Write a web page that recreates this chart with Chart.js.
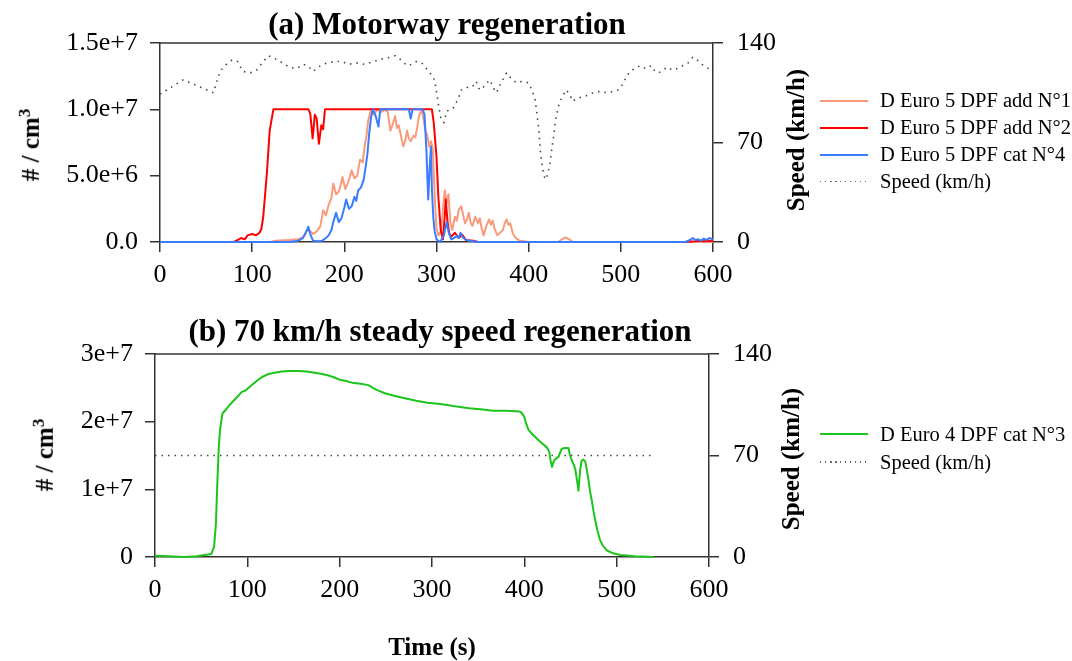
<!DOCTYPE html>
<html>
<head>
<meta charset="utf-8">
<script src="https://cdn.jsdelivr.net/npm/chart.js@4.4.0/dist/chart.umd.min.js"></script>
<style>
body { margin: 0; background: #fff; font-family: "Liberation Serif", "Times New Roman", serif; }
#wrap { position: relative; width: 1072px; height: 661px; overflow: hidden; background: #fff; }
canvas { position: absolute; left: 0; }
#chartTop { top: 0; }
#chartBot { top: 300px; }
.txt { position: absolute; white-space: nowrap; color: #000; }
.ttl { font-weight: bold; font-size: 31px; transform: translate(-50%, -50%); }
.ylab { font-weight: bold; font-size: 25px; transform: translate(-50%, -50%) rotate(-90deg); }
.leg { position: absolute; left: 820px; font-size: 20.5px; }
.leg .row { height: 27px; display: flex; align-items: center; }
.leg .s { display: inline-block; width: 48px; margin-right: 12px; }
</style>
</head>
<body>
<div id="wrap">
  <canvas id="chartTop" width="1072" height="300"></canvas>
  <canvas id="chartBot" width="1072" height="361"></canvas>
  <div class="txt ttl" style="left:447px; top:24px;">(a) Motorway regeneration</div>
  <div class="txt ttl" style="left:440px; top:331px;">(b) 70 km/h steady speed regeneration</div>
  <div class="txt ylab" style="left:30px; top:145px;"># / cm<sup style="font-size:17px">3</sup></div>
  <div class="txt ylab" style="left:44px; top:455px;"># / cm<sup style="font-size:17px">3</sup></div>
  <div class="txt ylab" style="left:796px; top:140px;">Speed (km/h)</div>
  <div class="txt ylab" style="left:791px; top:459px;">Speed (km/h)</div>
  <div class="txt" style="left:432px; top:647px; transform:translate(-50%,-50%); font-weight:bold; font-size:25px;">Time (s)</div>
  <div class="leg" id="legTop" style="top:87px;"></div>
  <div class="leg" id="legBot" style="top:420px;"></div>
</div>
<script>
// ---- (a) Motorway regeneration : temps (s) / concentration (x1e6 #/cm3) ----
const add1T = [0, 120, 125, 140, 150, 156, 159, 162, 166, 170, 174, 177, 180, 183, 186, 188, 191, 194, 196, 198, 201, 203, 206, 208, 211, 214, 217, 220, 222, 224, 226, 229, 232, 236, 240, 244, 247, 250, 253, 255, 257, 259, 262, 264, 266, 268, 270, 272, 275, 277, 279, 281, 284, 286, 288, 290, 292, 294, 296, 298, 300, 302, 305, 307, 309, 311, 313, 315, 317, 320, 322, 324, 327, 329, 331, 333, 335, 337, 339, 342, 345, 347, 349, 351, 354, 357, 359, 361, 363, 366, 369, 372, 374, 376, 378, 380, 383, 386, 390, 395, 400, 432, 436, 440, 444, 448, 600];
const add1V = [0, 0, 0.1, 0.15, 0.2, 0.4, 0.8, 0.9, 0.6, 0.8, 1.2, 2.4, 2.0, 2.8, 3.3, 4.4, 3.6, 3.8, 4.3, 4.9, 4.0, 4.3, 4.9, 5.4, 4.8, 5.0, 6.2, 6.0, 7.2, 8.0, 9.2, 10, 9.6, 10, 9.8, 10, 9.8, 8.4, 9.0, 9.5, 8.6, 8.8, 7.8, 7.2, 7.6, 8.4, 7.8, 7.6, 8.0, 7.9, 8.6, 9.5, 10, 9.2, 8.4, 8.0, 7.2, 7.6, 7.0, 3.5, 1.0, 0.5, 0.8, 2.5, 3.9, 2.9, 3.6, 1.5, 0.9, 1.9, 1.6, 2.4, 2.7, 2.0, 1.4, 1.7, 2.2, 1.5, 1.2, 1.9, 1.4, 1.8, 1.0, 0.5, 1.2, 1.7, 1.3, 1.6, 1.0, 0.5, 0.7, 0.9, 1.4, 1.7, 1.3, 1.4, 0.6, 0.3, 0.1, 0.05, 0, 0, 0.2, 0.35, 0.2, 0, 0];

const add2T = [0, 80, 84, 88, 92, 95, 100, 104, 108, 110, 112, 116, 119, 123, 161, 163, 165.6, 168, 170, 172.4, 175, 177, 179, 295, 297, 300, 302, 304.6, 307, 309, 310, 312, 314, 316, 320, 324, 328, 332, 340, 345, 570, 580, 585, 590, 595, 600];
const add2V = [0, 0, 0.15, 0.3, 0.2, 0.5, 0.6, 0.5, 0.7, 1.0, 1.9, 5.2, 8.4, 10, 10, 9.7, 7.8, 9.6, 9.3, 7.4, 8.8, 8.5, 10, 10, 9.0, 6.4, 3.4, 0.9, 0.2, 2.0, 3.2, 1.5, 0.6, 0.4, 0.7, 0.3, 0.55, 0.15, 0.1, 0, 0, 0.05, 0.1, 0.05, 0.1, 0.05];

const cat4T = [0, 140, 150, 155, 158, 161, 163, 166, 172, 176, 180, 183, 186, 188, 191, 194, 197, 200, 202, 205, 208, 211, 213, 215, 218, 221, 223, 225, 227, 229, 231, 234, 237, 239, 270, 272, 274, 285, 287, 289, 291, 292.5, 294, 295, 296.5, 298, 300, 304, 308, 311, 313, 316, 319, 322, 324, 326, 328, 331, 335, 340, 345, 570, 575, 578, 581, 584, 587, 590, 593, 596, 600];
const cat4V = [0, 0, 0.1, 0.3, 0.7, 1.15, 0.6, 0.1, 0.05, 0.1, 0.3, 0.5, 0.9, 1.5, 2.2, 1.5, 1.8, 2.6, 3.2, 2.5, 2.7, 3.4, 3.1, 3.9, 4.1, 4.7, 5.6, 6.6, 8.2, 9.4, 10, 9.5, 8.7, 10, 10, 9.3, 10, 10, 9.6, 7.0, 3.2, 5.5, 7.2, 4.0, 1.9, 0.8, 0.2, 0, 0.5, 1.5, 0.8, 0.2, 0.3, 0.45, 0.3, 0.7, 0.4, 0.2, 0.1, 0.05, 0, 0, 0.15, 0.3, 0.15, 0.2, 0.1, 0.25, 0.15, 0.3, 0.2];

const speedAT = [0, 10, 25, 40, 58, 65, 72, 78, 84, 90, 98, 105, 112, 118, 128, 135, 141, 148, 156, 162, 166, 174, 181, 190, 197, 205, 213, 222, 232, 242, 250, 255, 260, 264, 270, 278, 284, 289, 294, 298, 302, 305, 308, 311, 318, 323, 327, 332, 336, 340, 343, 346, 349, 353, 358, 362, 365, 370, 376, 381, 387, 393, 400, 404, 407, 409, 411, 413, 415, 417, 419, 421, 423, 425, 427, 429, 432, 436, 441, 445, 448, 452, 458, 463, 470, 477, 485, 492, 497, 501, 506, 510, 515, 521, 527, 533, 537, 541, 546, 550, 556, 561, 567, 573, 578, 583, 588, 595, 600];
const speedAV = [104, 108, 114, 110, 105, 120, 125, 128, 127, 120, 119, 121, 127, 131, 128, 125, 123, 122, 125, 123, 120, 124, 126, 127, 127, 125, 126, 125, 127, 129, 130, 131, 129, 126, 124, 127, 126, 122, 118, 114, 97, 86, 84, 92, 94, 100, 107, 108, 110, 110, 113, 108, 107, 111, 114, 108, 105, 112, 119, 115, 112, 113, 112, 106, 100, 90, 79, 62, 52, 46, 44, 49, 55, 65, 74, 85, 95, 102, 107, 103, 99, 101, 102, 103, 105, 106, 105, 106, 107, 110, 116, 120, 122, 124, 122, 124, 120, 119, 121, 123, 121, 122, 124, 126, 130, 128, 125, 122, 120];

// ---- (b) 70 km/h : temps (s) / concentration (x1e7 #/cm3) ----
const cat3T = [0, 15, 31, 45, 61, 64, 66, 67.5, 69, 70.4, 73, 77, 81, 88, 94, 98, 103, 110, 116, 122, 128, 137, 146, 155, 164, 175, 186, 193, 200, 207, 215, 223, 231, 236, 240, 249, 260, 273, 283, 295, 309, 323, 340, 355, 366, 380, 395, 397, 400, 402, 404.5, 409, 413.5, 419, 424.4, 427, 428.5, 430, 431.5, 433, 437, 439, 440.6, 444, 447.8, 449.5, 451.4, 453, 455, 457, 458.6, 460.4, 462, 464, 466, 467.5, 469.5, 471, 473, 475, 476.7, 479, 482, 485, 489, 495, 504, 520, 540];
const cat3V = [0.02, 0.01, 0, 0.01, 0.045, 0.15, 0.5, 1.09, 1.6, 1.88, 2.12, 2.18, 2.25, 2.35, 2.44, 2.46, 2.52, 2.6, 2.66, 2.7, 2.72, 2.74, 2.75, 2.75, 2.74, 2.72, 2.69, 2.66, 2.62, 2.6, 2.57, 2.56, 2.54, 2.5, 2.47, 2.42, 2.38, 2.34, 2.31, 2.28, 2.26, 2.23, 2.2, 2.18, 2.16, 2.16, 2.15, 2.13, 2.07, 1.97, 1.88, 1.81, 1.75, 1.68, 1.62, 1.55, 1.42, 1.33, 1.4, 1.44, 1.48, 1.55, 1.6, 1.61, 1.61, 1.5, 1.43, 1.38, 1.31, 1.14, 0.98, 1.28, 1.42, 1.44, 1.41, 1.3, 1.14, 0.98, 0.84, 0.67, 0.55, 0.4, 0.25, 0.17, 0.1, 0.06, 0.03, 0.01, 0];

const speedBT = [0, 542];
const speedBV = [70, 70];

const xTicksMax = 600;
const speedMax = 140;

Chart.defaults.font.family = '"Liberation Serif", "Times New Roman", serif';
Chart.defaults.color = '#000';

function pts(t, v, k) {
    return t.map(function (x, i) { return { x: x, y: v[i] * k }; });
}

// cadre du haut
const frameTop = {
    id: 'frameTop',
    beforeDatasetsDraw(chart) {
        const a = chart.chartArea, c = chart.ctx;
        c.save();
        c.strokeStyle = '#333';
        c.lineWidth = 1.5;
        c.beginPath();
        c.moveTo(a.left, a.top);
        c.lineTo(a.right, a.top);
        c.stroke();
        c.restore();
    }
};

function axe(extra) {
    return Object.assign({
        type: 'linear',
        grid: { drawOnChartArea: false, tickLength: 10, color: '#333', lineWidth: 1.5 },
        border: { color: '#333', width: 1.5 }
    }, extra);
}

function options(leftW, rightW, xH, yMax, yStep, yFmt) {
    return {
        responsive: false,
        animation: false,
        events: [],
        layout: { padding: { top: 0, left: 0, right: 0, bottom: 0 } },
        plugins: { legend: { display: false }, tooltip: { enabled: false } },
        elements: { point: { radius: 0 }, line: { tension: 0, borderJoinStyle: 'round' } },
        scales: {
            x: axe({
                position: 'bottom', min: 0, max: xTicksMax,
                ticks: { stepSize: 100, autoSkip: false, maxRotation: 0, font: { size: 26 }, padding: 8 },
                afterFit(s) { s.height = xH; }
            }),
            y: axe({
                position: 'left', min: 0, max: yMax,
                ticks: { stepSize: yStep, font: { size: 26 }, padding: 12, callback: yFmt },
                afterFit(s) { s.width = leftW; }
            }),
            ySpeed: axe({
                position: 'right', min: 0, max: speedMax,
                ticks: { stepSize: 70, font: { size: 26 }, padding: 14 },
                afterFit(s) { s.width = rightW; }
            })
        }
    };
}

const speedStyle = { borderColor: '#444', borderWidth: 1.6, borderDash: [1.5, 5], borderCapStyle: 'butt' };

const dsTop = [
    { label: 'D Euro 5 DPF add N°1', data: pts(add1T, add1V, 1e6), borderColor: '#fa9a7c', borderWidth: 2, order: 2, yAxisID: 'y' },
    { label: 'D Euro 5 DPF add N°2', data: pts(add2T, add2V, 1e6), borderColor: '#ff0000', borderWidth: 2, order: 1, yAxisID: 'y' },
    { label: 'D Euro 5 DPF cat N°4', data: pts(cat4T, cat4V, 1e6), borderColor: '#3b7bff', borderWidth: 2, order: 0, yAxisID: 'y' },
    Object.assign({ label: 'Speed (km/h)', data: pts(speedAT, speedAV, 1), order: 3, yAxisID: 'ySpeed' }, speedStyle)
];

const dsBot = [
    { label: 'D Euro 4 DPF cat N°3', data: pts(cat3T, cat3V, 1e7), borderColor: '#1cc41c', borderWidth: 2, order: 0, yAxisID: 'y' },
    Object.assign({ label: 'Speed (km/h)', data: pts(speedBT, speedBV, 1), order: 1, yAxisID: 'ySpeed' }, speedStyle)
];

dsTop.forEach(function (d) { d.clip = 4; });
dsBot.forEach(function (d) { d.clip = 4; });

const optTop = options(160, 359, 58, 1.5e7, 5e6, function (v) {
    return v === 0 ? '0.0' : Number(v).toExponential(1);
});
optTop.layout.padding.top = 43;

const optBot = options(155, 363, 104, 3e7, 1e7, function (v) {
    return v === 0 ? '0' : Number(v).toExponential(0);
});
optBot.layout.padding.top = 54;

new Chart(document.getElementById('chartTop'), {
    type: 'line', data: { datasets: dsTop }, options: optTop, plugins: [frameTop]
});
new Chart(document.getElementById('chartBot'), {
    type: 'line', data: { datasets: dsBot }, options: optBot, plugins: [frameTop]
});

// légende HTML construite depuis les datasets
function legende(id, datasets, rowH) {
    const box = document.getElementById(id);
    datasets.forEach(function (d) {
        const row = document.createElement('div');
        row.className = 'row';
        row.style.height = rowH + 'px';
        const s = document.createElement('span');
        s.className = 's';
        if (d.borderDash) {
            s.style.height = '1.5px';
            s.style.background = 'repeating-linear-gradient(to right, #666 0 1.5px, transparent 1.5px 5px)';
        } else {
            s.style.height = '2px';
            s.style.background = d.borderColor;
        }
        row.appendChild(s);
        row.appendChild(document.createTextNode(d.label));
        box.appendChild(row);
    });
}
legende('legTop', dsTop, 27);
legende('legBot', dsBot, 28);
</script>
</body>
</html>
